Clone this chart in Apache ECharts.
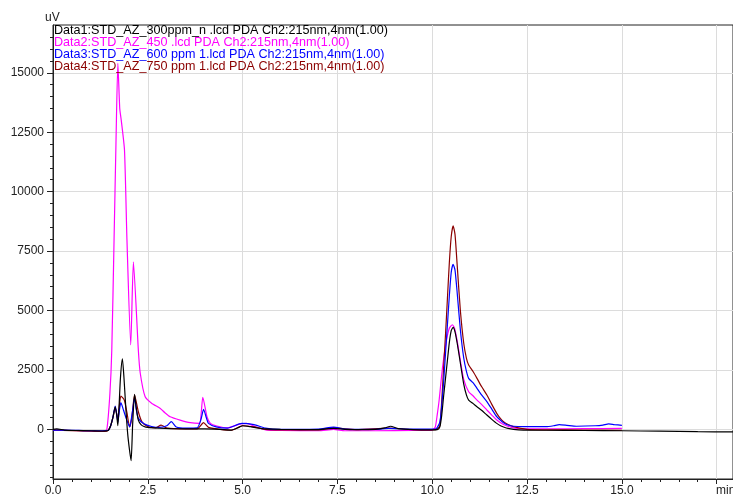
<!DOCTYPE html>
<html><head><meta charset="utf-8">
<script src="https://cdn.jsdelivr.net/npm/echarts@6/dist/echarts.min.js"></script>
<style>html,body{margin:0;padding:0;background:#fff}#c{width:733px;height:502px}</style>
</head><body><div id="c"></div>
<script>
// ---- data (time in min, signal in uV) ----
const seriesNames = [
  'Data1:STD_AZ_300ppm_n .lcd PDA Ch2:215nm,4nm(1.00)',
  'Data2:STD_AZ_450 .lcd PDA Ch2:215nm,4nm(1.00)',
  'Data3:STD_AZ_600 ppm 1.lcd PDA Ch2:215nm,4nm(1.00)',
  'Data4:STD_AZ_750 ppm 1.lcd PDA Ch2:215nm,4nm(1.00)'
];
const seriesColors = ['#000000', '#ff00ff', '#0000ff', '#8b0000'];
const yMajorTicks = [0, 2500, 5000, 7500, 10000, 12500, 15000];
const yMinorTicks = [-2000,-1500,-1000,-500,500,1000,1500,2000,3000,3500,4000,4500,5500,6000,6500,7000,8000,8500,9000,9500,10500,11000,11500,12000,13000,13500,14000,14500,15500,16000,16500];
const xTickLabels = ['0.0','2.5','5.0','7.5','10.0','12.5','15.0'];

const data1 = [[0,0],[0.1,20],[0.3,-30],[0.6,-50],[1.0,-60],[1.3,-70],[1.45,-50],[1.52,150],[1.58,500],[1.64,950],[1.68,600],[1.71,150],[1.74,900],[1.78,2200],[1.83,2960],[1.87,2200],[1.92,900],[1.97,-200],[2.02,-900],[2.06,-1320],[2.1,200],[2.15,1470],[2.2,850],[2.25,390],[2.32,200],[2.4,120],[2.5,80],[2.8,50],[3.1,30],[3.5,20],[4.0,20],[4.4,0],[4.7,-30],[4.9,80],[5.0,150],[5.2,110],[5.5,30],[6.0,0],[6.5,-10],[7.0,-10],[7.4,40],[7.7,0],[8.0,-10],[8.5,0],[8.75,60],[8.9,130],[9.1,30],[9.5,-10],[10.0,-20],[10.15,0],[10.2,100],[10.25,600],[10.3,1400],[10.35,2150],[10.4,2900],[10.45,3650],[10.5,4150],[10.55,4290],[10.6,4100],[10.66,3600],[10.74,2800],[10.83,1900],[10.9,1450],[10.96,1230],[11.08,1080],[11.18,950],[11.3,800],[11.44,600],[11.57,420],[11.7,250],[11.8,150],[11.88,100],[12.0,40],[12.14,0],[12.4,-30],[13,-40],[14,-50],[15,-60],[16,-80],[17,-100],[17.93,-110]];

const data2 = [[0,-30],[0.5,-50],[1.0,-70],[1.35,-90],[1.42,0],[1.5,1500],[1.55,3340],[1.61,7970],[1.66,12000],[1.71,15400],[1.76,13500],[1.8,13000],[1.885,11750],[1.95,7970],[2.05,3550],[2.12,7050],[2.25,3340],[2.3,2370],[2.43,1370],[2.6,1100],[2.83,880],[2.95,700],[3.09,530],[3.35,390],[3.62,280],[3.86,250],[3.95,1350],[4.06,530],[4.15,250],[4.32,140],[4.6,60],[4.94,230],[5.1,250],[5.35,100],[5.6,-20],[6.0,-50],[7.0,-60],[7.4,0],[7.7,-60],[8.5,-60],[9.5,-50],[10.0,-30],[10.08,100],[10.13,600],[10.18,1200],[10.27,2600],[10.37,3700],[10.45,4250],[10.53,4400],[10.59,4250],[10.66,3700],[10.74,2900],[10.83,2100],[10.96,1580],[11.08,1400],[11.18,1230],[11.3,1050],[11.44,813],[11.57,600],[11.7,390],[11.88,200],[12.14,60],[12.4,20],[13,20],[14,30],[15,40]];

const data3 = [[0,-30],[0.5,-40],[1.0,-60],[1.45,-50],[1.52,150],[1.58,500],[1.64,980],[1.68,650],[1.71,300],[1.75,800],[1.79,1120],[1.86,800],[1.93,460],[2.02,100],[2.09,700],[2.15,1320],[2.2,800],[2.25,460],[2.4,230],[2.6,120],[2.8,80],[3.0,150],[3.12,320],[3.25,100],[3.5,50],[3.8,60],[3.9,400],[3.97,840],[4.05,450],[4.1,250],[4.3,100],[4.6,50],[4.98,250],[5.3,200],[5.6,50],[6.0,0],[7.0,10],[7.4,90],[7.7,10],[8.5,0],[8.85,40],[9.5,10],[10.0,10],[10.1,20],[10.2,300],[10.25,1000],[10.3,2000],[10.35,3200],[10.4,4400],[10.45,5600],[10.5,6600],[10.55,6944],[10.6,6700],[10.66,5700],[10.74,4200],[10.83,3000],[10.9,2450],[10.96,2145],[11.08,1950],[11.18,1725],[11.3,1450],[11.44,1165],[11.57,850],[11.7,533],[11.8,380],[11.88,280],[12.0,180],[12.14,130],[12.4,110],[13.0,110],[13.2,150],[13.35,200],[13.55,170],[13.8,130],[14.3,150],[14.5,180],[14.65,230],[14.8,200],[15.0,170]];

const data4 = [[0,-20],[0.5,-60],[1.0,-80],[1.35,-90],[1.45,-50],[1.52,150],[1.58,500],[1.64,900],[1.68,650],[1.71,400],[1.75,1000],[1.79,1400],[1.88,1230],[1.95,700],[2.02,100],[2.08,500],[2.15,1450],[2.25,740],[2.35,300],[2.5,120],[2.7,60],[2.85,180],[3.0,50],[3.5,20],[3.8,20],[3.97,280],[4.1,80],[4.5,-20],[4.7,-40],[5.0,150],[5.3,100],[5.6,0],[6.0,-20],[7.0,-20],[7.4,60],[8.0,-10],[8.85,50],[9.5,-10],[10.0,-20],[10.12,0],[10.2,150],[10.25,1200],[10.3,2600],[10.35,4000],[10.4,5500],[10.45,7000],[10.5,8100],[10.55,8560],[10.6,8200],[10.66,6845],[10.74,5020],[10.83,3620],[10.9,3000],[10.96,2704],[11.08,2420],[11.18,2145],[11.3,1800],[11.44,1445],[11.57,1050],[11.7,673],[11.8,450],[11.88,320],[12.0,200],[12.14,110],[12.5,0],[13,-20],[14,-30],[15,-40]];

const seriesData = [data1, data2, data3, data4];
const drawOrder = [1, 3, 2, 0];

const FONT = "'Liberation Sans', Arial, sans-serif";
const chart = echarts.init(document.getElementById('c'), null, {renderer: 'canvas'});

const series = drawOrder.map(i => ({
  name: seriesNames[i], type: 'line', data: seriesData[i], showSymbol: false, symbol: 'none',
  smooth: 0.2, clip: true,
  lineStyle: {color: seriesColors[i], width: 1.2}, itemStyle: {color: seriesColors[i]},
  animation: false, z: 3
}));

const graphic = seriesNames.map((s, i) => ({
  type: 'text', x: 54, y: 30.5 + 12 * i, z: 10,
  style: {text: s, fill: seriesColors[i], fontSize: 12.6, fontFamily: FONT, verticalAlign: 'middle', align: 'left'}
}));
graphic.push({type: 'text', x: 45, y: 18, style: {text: 'uV', fill: '#222', fontSize: 12, fontFamily: FONT, verticalAlign: 'middle'}});
graphic.push({type: 'text', x: 716, y: 491, style: {text: 'min', fill: '#222', fontSize: 12, fontFamily: FONT, verticalAlign: 'middle'}});

chart.setOption({
  animation: false,
  backgroundColor: '#fff',
  grid: {left: 53, right: 0, top: 25, bottom: 23, containLabel: false, outerBoundsMode: 'none',
         show: true, borderColor: '#222', borderWidth: 1, backgroundColor: 'transparent'},
  xAxis: {
    type: 'value', min: 0, max: 17.93, interval: 2.5,
    axisLine: {show: true, onZero: false, lineStyle: {color: '#222', width: 1}},
    axisTick: {show: true, inside: false, length: 5, lineStyle: {color: '#222'}},
    minorTick: {show: true, splitNumber: 5, length: 3, lineStyle: {color: '#222'}},
    splitLine: {show: true, lineStyle: {color: '#dcdcdc', width: 1}},
    axisLabel: {color: '#222', fontSize: 12, fontFamily: FONT, margin: 6, showMaxLabel: false,
      formatter: v => { const k = Math.round(v / 2.5); return (Math.abs(v - k * 2.5) < 1e-6 && k < xTickLabels.length) ? xTickLabels[k] : ''; }}
  },
  yAxis: [{
    type: 'value', min: -2090, max: 17010, position: 'left',
    axisLine: {show: true, onZero: false, lineStyle: {color: '#222', width: 1}},
    axisTick: {show: true, inside: false, length: 6, customValues: yMajorTicks, lineStyle: {color: '#222'}},
    axisLabel: {color: '#222', fontSize: 12, fontFamily: FONT, margin: 9, customValues: yMajorTicks, formatter: v => String(v)},
    splitLine: {show: true, lineStyle: {color: '#dcdcdc', width: 1}}
  }, {
    type: 'value', min: -2090, max: 17010, position: 'left', offset: 0,
    axisLine: {show: false},
    axisTick: {show: true, inside: false, length: 3, customValues: yMinorTicks, lineStyle: {color: '#222'}},
    axisLabel: {show: false},
    splitLine: {show: false}
  }],
  series: series,
  graphic: graphic
});
</script></body></html>
